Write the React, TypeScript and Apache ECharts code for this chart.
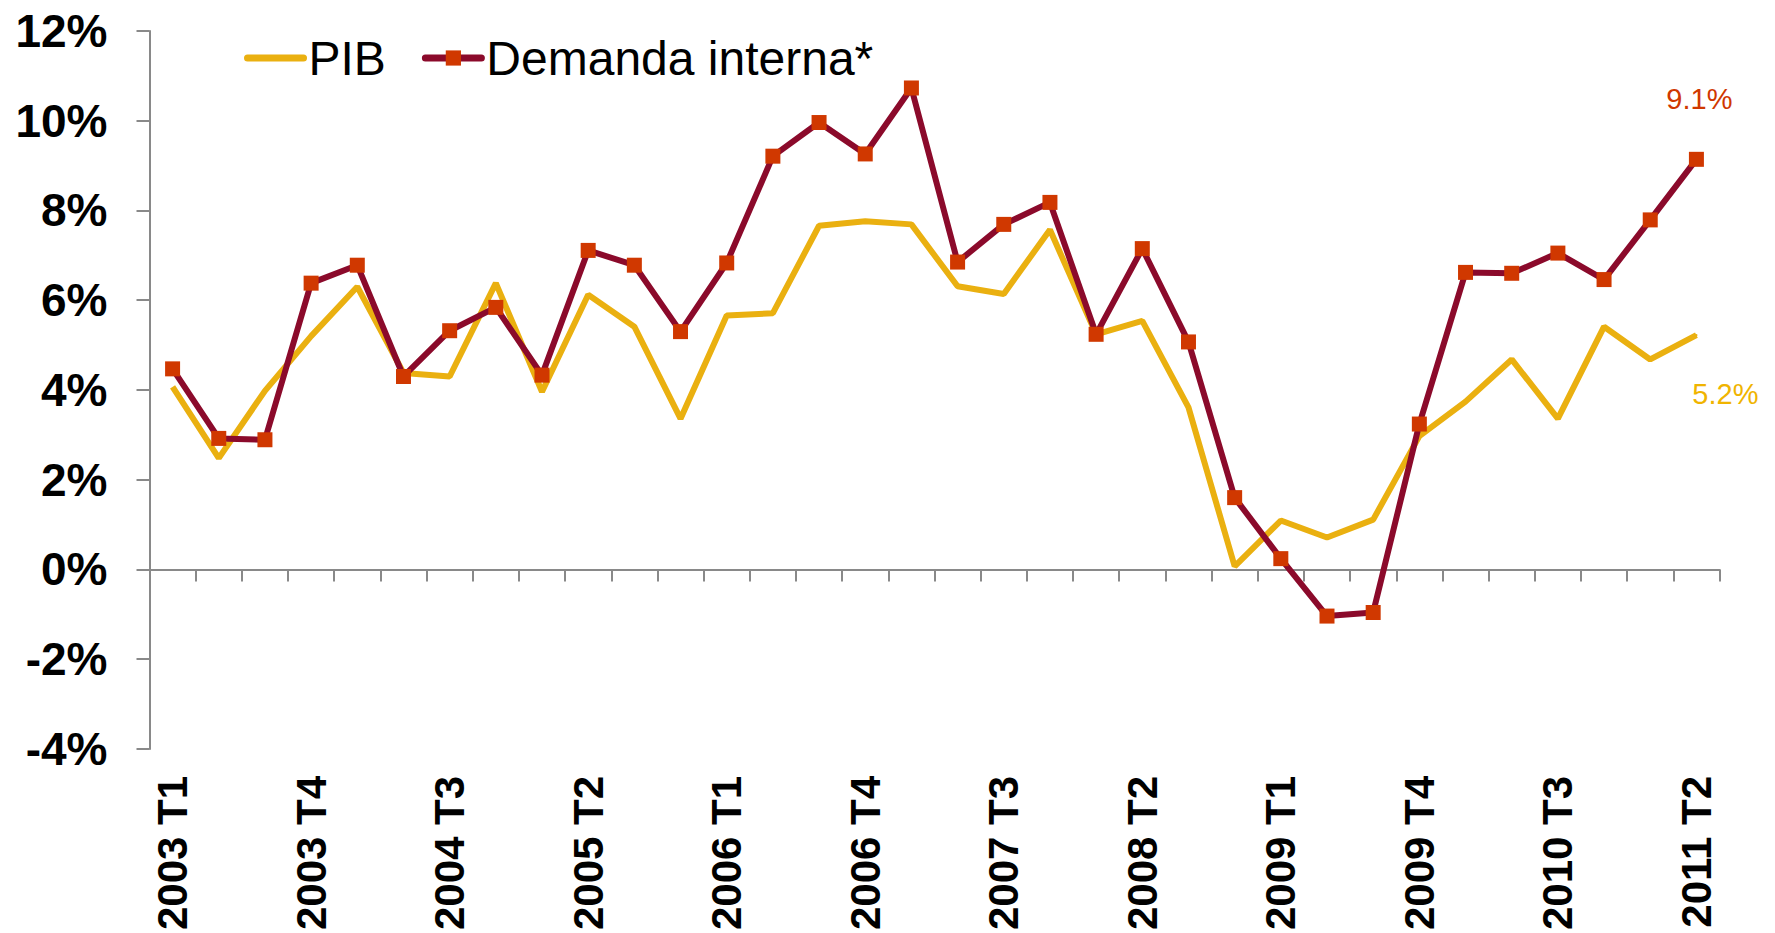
import React, { useEffect, useRef } from 'react';
import * as echarts from 'echarts';

const categories = [
  '2003 T1', '2003 T2', '2003 T3', '2003 T4',
  '2004 T1', '2004 T2', '2004 T3', '2004 T4',
  '2005 T1', '2005 T2', '2005 T3', '2005 T4',
  '2006 T1', '2006 T2', '2006 T3', '2006 T4',
  '2007 T1', '2007 T2', '2007 T3', '2007 T4',
  '2008 T1', '2008 T2', '2008 T3', '2008 T4',
  '2009 T1', '2009 T2', '2009 T3', '2009 T4',
  '2010 T1', '2010 T2', '2010 T3', '2010 T4',
  '2011 T1', '2011 T2',
];

const pibValues = [
  4.07, 2.48, 3.98, 5.2, 6.3, 4.38, 4.3, 6.38, 3.96, 6.12, 5.41, 3.36,
  5.66, 5.71, 7.66, 7.76, 7.69, 6.31, 6.14, 7.57, 5.24, 5.54, 3.61, 0.07,
  1.09, 0.71, 1.11, 2.97, 3.74, 4.68, 3.36, 5.41, 4.68, 5.22,
];

const demandaValues = [
  4.47, 2.92, 2.89, 6.38, 6.78, 4.3, 5.32, 5.84, 4.33, 7.11, 6.78, 5.3,
  6.83, 9.21, 9.96, 9.26, 10.73, 6.85, 7.69, 8.18, 5.24, 7.15, 5.07, 1.6,
  0.24, -1.04, -0.96, 3.24, 6.62, 6.6, 7.05, 6.46, 7.79, 9.14,
];

const seriesNames = ['PIB', 'Demanda interna*'];
const yTicks = { min: -4, max: 12, interval: 2 };

const FONT = "'Liberation Sans', Arial, Helvetica, sans-serif";
const PIB_COLOR = '#EAB010';
const DEM_LINE = '#8B0A2B';
const DEM_MARK = '#D03800';
const AXIS_GRAY = '#898989';

export default function App() {
  const ref = useRef<HTMLDivElement>(null);

  useEffect(() => {
    if (!ref.current) return;
    const chart = echarts.init(ref.current, null, { renderer: 'svg' });
    const last = categories.length - 1;
    const fmt = (p: any) => `${Number(p.value).toFixed(1)}%`;

    const pibData = pibValues.map((v, i) =>
      i === last
        ? {
            value: v,
            symbol: 'circle',
            symbolSize: 2,
            itemStyle: { color: PIB_COLOR },
            label: {
              show: true,
              position: 'inside',
              offset: [29, 59],
              formatter: fmt,
              color: '#F0B400',
              fontSize: 29,
              fontFamily: FONT,
            },
          }
        : v
    );

    const demData = demandaValues.map((v, i) =>
      i === last
        ? {
            value: v,
            label: {
              show: true,
              position: 'inside',
              offset: [3, -60],
              formatter: fmt,
              color: DEM_MARK,
              fontSize: 29,
              fontFamily: FONT,
            },
          }
        : v
    );

    chart.setOption({
      animation: false,
      grid: { left: 149.5, right: 55.5, top: 31, bottom: 183.5, containLabel: false },
      legend: {
        left: 244,
        top: 34,
        padding: 0,
        itemWidth: 56,
        itemHeight: 19,
        itemGap: 36,
        lineStyle: { width: 7, cap: 'round' },
        textStyle: { fontSize: 48, color: '#000', fontFamily: FONT },
        data: [
          { name: seriesNames[0], itemStyle: { opacity: 0 } },
          { name: seriesNames[1] },
        ],
      },
      xAxis: [
        {
          type: 'category',
          data: categories,
          position: 'bottom',
          boundaryGap: true,
          axisLine: { show: false, onZero: false },
          axisTick: { show: false },
          axisLabel: {
            interval: 2,
            rotate: 90,
            margin: 27,
            fontSize: 42,
            fontWeight: 'bold',
            color: '#000',
            fontFamily: FONT,
          },
        },
        {
          type: 'category',
          data: categories,
          position: 'top',
          boundaryGap: true,
          axisLine: { show: true, onZero: true, lineStyle: { color: AXIS_GRAY, width: 2 } },
          axisTick: {
            show: true,
            inside: true,
            interval: 0,
            length: 12,
            lineStyle: { color: AXIS_GRAY, width: 2 },
          },
          axisLabel: { show: false },
        },
      ],
      yAxis: {
        type: 'value',
        min: yTicks.min,
        max: yTicks.max,
        interval: yTicks.interval,
        splitLine: { show: false },
        axisLine: { show: true, lineStyle: { color: AXIS_GRAY, width: 2 } },
        axisTick: { show: true, length: 13, lineStyle: { color: AXIS_GRAY, width: 2 } },
        axisLabel: {
          formatter: '{value}%',
          margin: 42,
          fontSize: 46,
          fontWeight: 'bold',
          color: '#000',
          fontFamily: FONT,
        },
      },
      series: [
        {
          name: seriesNames[0],
          type: 'line',
          data: pibData,
          symbol: 'none',
          color: PIB_COLOR,
          lineStyle: { color: PIB_COLOR, width: 6 },
          itemStyle: { color: PIB_COLOR },
          z: 2,
        },
        {
          name: seriesNames[1],
          type: 'line',
          data: demData,
          symbol: 'rect',
          symbolSize: 15,
          color: DEM_MARK,
          lineStyle: { color: DEM_LINE, width: 6 },
          itemStyle: { color: DEM_MARK },
          z: 3,
        },
      ],
    });

    return () => chart.dispose();
  }, []);

  return (
    <div
      ref={ref}
      style={{ position: 'fixed', left: 0, top: 0, width: 1775, height: 933, background: '#fff' }}
    />
  );
}
